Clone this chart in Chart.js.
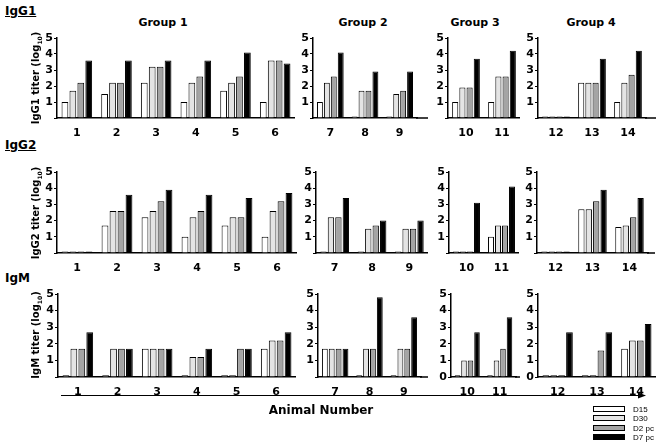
<!DOCTYPE html>
<html>
<head>
<meta charset="utf-8">
<script src="https://cdn.jsdelivr.net/npm/chart.js@4"></script>
<style>
body { margin: 0; background: #fff; width: 661px; height: 447px; position: relative; overflow: hidden; font-family: "DejaVu Sans", Verdana, sans-serif; }
.t { position: absolute; z-index: 2; white-space: nowrap; font-weight: bold; color: #000; }
canvas { position: absolute; z-index: 1; }
svg { z-index: 2; }
.ytitle { position: absolute; z-index: 2; font-weight: bold; font-size: 10px; white-space: nowrap; transform: translate(-50%, -50%) rotate(-90deg); }
.ytitle sub { font-size: 6px; }
.lg { position: absolute; z-index: 2; left: 593px; width: 30px; height: 4px; border: 1px solid #000; }
.lgt { position: absolute; z-index: 2; left: 633px; font-family: "Liberation Sans", Arial, sans-serif; font-size: 8px; line-height: 9px; }
</style>
</head>
<body>
<div class="t" style="left:5px;top:4px;font-size:12px;text-decoration:underline">IgG1</div>
<div class="t" style="left:5px;top:138px;font-size:12px;text-decoration:underline">IgG2</div>
<div class="t" style="left:5px;top:271px;font-size:12px">IgM</div>

<div class="ytitle" style="left:36px;top:78px">IgG1 titer (log<sub>10</sub>)</div>
<div class="ytitle" style="left:36px;top:213px">IgG2 titer (log<sub>10</sub>)</div>
<div class="ytitle" style="left:36px;top:335px">IgM titer (log<sub>10</sub>)</div>

<div id="groups"></div>

<svg style="position:absolute;left:0;top:0" width="661" height="447">
  <line x1="61" y1="395.5" x2="640" y2="395.5" stroke="#000" stroke-width="1.2"/>
  <polygon points="646,395.5 638,392.5 638,398.5" fill="#000"/>
</svg>
<div class="t" style="left:321px;top:410px;font-size:12px;transform:translate(-50%,-50%)">Animal Number</div>

<div id="legend"></div>

<script>
var animals = ['1', '2', '3', '4', '5', '6', '7', '8', '9', '10', '11', '12', '13', '14'];
var groupSizes = [6, 3, 2, 3];
var groupNames = ['Group 1', 'Group 2', 'Group 3', 'Group 4'];
var seriesNames = ['D15', 'D30', 'D2 pc', 'D7 pc'];
var seriesColors = ['#ffffff', '#e4e4e4', '#a4a4a4', '#000000'];

var igg1D15 = [1.0, 1.5, 2.2, 1.0, 1.7, 1.0, 1.0, 0.1, 0.1, 1.0, 1.0, 0.1, 2.2, 1.0];
var igg1D30 = [1.7, 2.2, 3.2, 2.2, 2.2, 3.6, 2.2, 1.7, 1.5, 1.9, 2.6, 0.1, 2.2, 2.2];
var igg1D2pc = [2.2, 2.2, 3.2, 2.6, 2.6, 3.6, 2.6, 1.7, 1.7, 1.9, 2.6, 0.1, 2.2, 2.7];
var igg1D7pc = [3.6, 3.6, 3.6, 3.6, 4.1, 3.4, 4.1, 2.9, 2.9, 3.7, 4.2, 0.1, 3.7, 4.2];

var igg2D15 = [0.1, 1.7, 2.2, 1.0, 1.7, 1.0, 0.1, 0.1, 0.1, 0.1, 1.0, 0.1, 2.7, 1.6];
var igg2D30 = [0.1, 2.6, 2.6, 2.2, 2.2, 2.6, 2.2, 1.5, 1.5, 0.1, 1.7, 0.1, 2.7, 1.7];
var igg2D2pc = [0.1, 2.6, 3.2, 2.6, 2.2, 3.2, 2.2, 1.7, 1.5, 0.1, 1.7, 0.1, 3.2, 2.2];
var igg2D7pc = [0.1, 3.6, 3.9, 3.6, 3.4, 3.7, 3.4, 2.0, 2.0, 3.1, 4.1, 0.1, 3.9, 3.4];

var igmD15 = [0.1, 0.1, 1.7, 0.1, 0.1, 1.7, 1.7, 0.1, 0.1, 0.1, 0.1, 0.1, 0.1, 1.7];
var igmD30 = [1.7, 1.7, 1.7, 1.2, 0.1, 2.2, 1.7, 1.7, 1.7, 1.0, 1.0, 0.1, 0.1, 2.2];
var igmD2pc = [1.7, 1.7, 1.7, 1.2, 1.7, 2.2, 1.7, 1.7, 1.7, 1.0, 1.7, 0.1, 1.6, 2.2];
var igmD7pc = [2.7, 1.7, 1.7, 1.7, 1.7, 2.7, 1.7, 4.8, 3.6, 2.7, 3.6, 2.7, 2.7, 3.2];

var rows = [
    [igg1D15, igg1D30, igg1D2pc, igg1D7pc],
    [igg2D15, igg2D30, igg2D2pc, igg2D7pc],
    [igmD15, igmD30, igmD2pc, igmD7pc]
];

// plot area of each panel: [left, right, end of x axis line]
var rowTop = [38, 172, 294];
var rowBottom = [118, 253, 377];
var panelX = [
    [[57, 295, 295], [313, 417, 428], [448, 520, 520], [538, 646, 656]],
    [[57, 297, 297], [316, 428, 428], [449, 519, 519], [537, 648, 655]],
    [[58, 296, 296], [318, 421, 428], [451, 516, 520], [538, 656, 656]]
];
var groupTitleX = [163, 363, 475, 591];
var showZero = [[false, false, false, false], [false, false, false, false], [false, false, true, true]];

var tickFont = { family: 'DejaVu Sans', size: 11, weight: 'bold' };

// y tick labels from the y scale, and the x axis line drawn a little past the last category
var panelAxes = {
    id: 'panelAxes',
    afterDraw: function (chart, args, opts) {
        var ctx = chart.ctx, a = chart.chartArea, y = chart.scales.y;
        ctx.save();
        ctx.fillStyle = '#000';
        ctx.font = 'bold 11px "DejaVu Sans"';
        ctx.textAlign = 'right';
        ctx.textBaseline = 'middle';
        y.ticks.forEach(function (t) {
            if (t.value === 0 && !opts.zero) return;
            ctx.fillText(String(t.value), a.left - 4, y.getPixelForValue(t.value));
        });
        if (opts.length) {
            ctx.strokeStyle = '#000';
            ctx.lineWidth = 1.5;
            ctx.beginPath();
            ctx.moveTo(a.right - 1, a.bottom);
            ctx.lineTo(a.right + opts.length, a.bottom);
            ctx.stroke();
        }
        ctx.restore();
    }
};

var yW = 18, padTop = 8, xH = 18;
var start = 0;
groupSizes.forEach(function (size, g) {
    var labels = animals.slice(start, start + size);
    rows.forEach(function (series, r) {
        var px = panelX[r][g];
        var cv = document.createElement('canvas');
        var w = px[2] - px[0] + yW;
        var h = rowBottom[r] - rowTop[r] + padTop + xH;
        cv.width = w; cv.height = h;
        cv.style.left = (px[0] - yW) + 'px';
        cv.style.top = (rowTop[r] - padTop) + 'px';
        cv.style.width = w + 'px'; cv.style.height = h + 'px';
        document.body.appendChild(cv);
        new Chart(cv.getContext('2d'), {
            type: 'bar',
            data: {
                labels: labels,
                datasets: series.map(function (vals, s) {
                    return {
                        label: seriesNames[s],
                        data: vals.slice(start, start + size),
                        backgroundColor: seriesColors[s],
                        borderColor: '#000',
                        borderWidth: 1,
                        categoryPercentage: 0.8,
                        barPercentage: 0.85
                    };
                })
            },
            options: {
                responsive: false,
                animation: false,
                layout: { padding: { top: padTop, right: px[2] - px[1], left: 0, bottom: 0 } },
                plugins: {
                    legend: { display: false },
                    tooltip: { enabled: false },
                    panelAxes: { length: px[2] - px[1], zero: showZero[r][g] }
                },
                scales: {
                    x: {
                        grid: { display: false },
                        border: { display: true, color: '#000', width: 1.5 },
                        ticks: { color: '#000', font: tickFont, padding: 1, maxRotation: 0, autoSkip: false },
                        afterFit: function (s) { s.height = xH; }
                    },
                    y: {
                        min: 0, max: 5,
                        grid: { drawOnChartArea: false, drawTicks: true, tickLength: 3, color: '#000' },
                        border: { display: true, color: '#000', width: 1.5 },
                        ticks: { display: false, stepSize: 1, autoSkip: false, maxTicksLimit: 6 },
                        afterFit: function (s) { s.width = yW; }
                    }
                }
            },
            plugins: [panelAxes]
        });
    });
    var t = document.createElement('div');
    t.className = 't';
    t.style.left = groupTitleX[g] + 'px';
    t.style.top = '22px';
    t.style.fontSize = '11px';
    t.style.transform = 'translate(-50%,-50%)';
    t.textContent = groupNames[g];
    document.getElementById('groups').appendChild(t);
    start += size;
});

var lgTops = [406, 415, 425, 434];
seriesNames.forEach(function (name, s) {
    var b = document.createElement('div');
    b.className = 'lg';
    b.style.top = lgTops[s] + 'px';
    b.style.background = seriesColors[s];
    document.getElementById('legend').appendChild(b);
    var l = document.createElement('div');
    l.className = 'lgt';
    l.style.top = (lgTops[s] - 1) + 'px';
    l.textContent = name;
    document.getElementById('legend').appendChild(l);
});
</script>
</body>
</html>
